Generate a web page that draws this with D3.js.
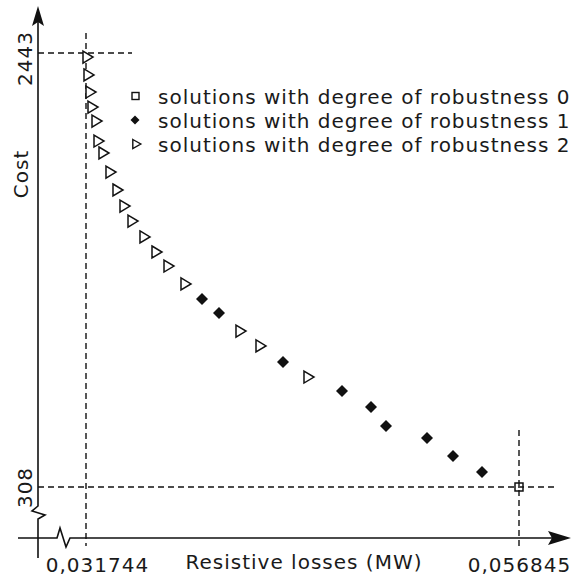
<!DOCTYPE html>
<html>
<head>
<meta charset="utf-8">
<script src="https://cdn.jsdelivr.net/npm/d3@7"></script>
<style>
  body { margin: 0; background: #fff; }
  text { font-family: "DejaVu Sans", sans-serif; font-size: 20px; letter-spacing: 1px; fill: #1a1a1a; }
</style>
</head>
<body>
<div id="chart"></div>
<script>
var svgWidth = 586;
var svgHeight = 583;

// robustness 0
var rob0X = [0.056845];
var rob0Y = [308];
// robustness 1
var rob1X = [0.038469, 0.039454, 0.043164, 0.046584, 0.048265, 0.049135, 0.051512, 0.053019, 0.054700];
var rob1Y = [1233, 1164, 923, 780, 702, 608, 549, 460, 382];
// robustness 2
var rob2X = [0.031802, 0.031860, 0.031976, 0.032092, 0.032324, 0.032440, 0.032729, 0.033135, 0.033541,
             0.033947, 0.034411, 0.035106, 0.035802, 0.036498, 0.037483, 0.040671, 0.041831, 0.044613];
var rob2Y = [2423, 2335, 2251, 2177, 2108, 2010, 1951, 1857, 1769,
             1690, 1616, 1538, 1464, 1395, 1307, 1075, 1002, 849];

var xTicks = [0.031744, 0.056845];
var yTicks = [308, 2443];
var legendLabels = ["solutions with degree of robustness 0",
                    "solutions with degree of robustness 1",
                    "solutions with degree of robustness 2"];

var axisX0 = 38;   // y axis line position
var axisY0 = 538;  // x axis line position

var svg = d3.select("#chart")
    .append("svg")
    .attr("width", svgWidth)
    .attr("height", svgHeight);

var xScale = d3.scaleLinear().domain([0.031744, 0.056845]).range([86, 519]);
var yScale = d3.scaleLinear().domain([308, 2443]).range([487, 53]);

// marker shapes
function triPath(w, h) {
    return `M${-w * 0.4},${-h / 2} L${w * 0.6},0 L${-w * 0.4},${h / 2} Z`;
}
function diaPath(r) {
    return `M0,${-r} L${r},0 L0,${r} L${-r},0 Z`;
}

// axes lines (with breaks)
svg.append("path")
    .attr("d", `M${axisX0},22 L${axisX0},506 L32,511 L45,515 L${axisX0},519 L${axisX0},558`)
    .attr("fill", "none")
    .attr("stroke", "#111")
    .attr("stroke-width", 1.6);
svg.append("path")
    .attr("d", `M18,${axisY0} L57,${axisY0} L60,528 L66,547 L70,${axisY0} L552,${axisY0}`)
    .attr("fill", "none")
    .attr("stroke", "#111")
    .attr("stroke-width", 1.6);

// arrow heads
svg.append("path")
    .attr("d", `M${axisX0},6 L${axisX0 + 6},26 L${axisX0},22 L${axisX0 - 6},26 Z`)
    .attr("fill", "#111");
svg.append("path")
    .attr("d", `M571,${axisY0} L548,${axisY0 - 7} L552,${axisY0} L548,${axisY0 + 7} Z`)
    .attr("fill", "#111");

// dashed guide lines
var dash = "6,4";
svg.append("line")
    .attr("x1", xScale(xTicks[0])).attr("x2", xScale(xTicks[0]))
    .attr("y1", 33).attr("y2", 546);
svg.append("line")
    .attr("x1", xScale(xTicks[1])).attr("x2", xScale(xTicks[1]))
    .attr("y1", 430).attr("y2", 548);
svg.append("line")
    .attr("x1", axisX0).attr("x2", 132)
    .attr("y1", yScale(yTicks[1])).attr("y2", yScale(yTicks[1]));
svg.append("line")
    .attr("x1", axisX0).attr("x2", 558)
    .attr("y1", yScale(yTicks[0])).attr("y2", yScale(yTicks[0]));
svg.selectAll("line")
    .attr("stroke", "#111")
    .attr("stroke-width", 1.4)
    .attr("stroke-dasharray", dash);

// tick labels through d3 axes
var bottomAxis = d3.axisBottom(xScale)
    .tickValues(xTicks)
    .tickSize(0)
    .tickFormat(d => String(d).replace(".", ","));
var xAxis = svg.append("g")
    .attr("transform", `translate(0, ${axisY0})`)
    .call(bottomAxis);
xAxis.select(".domain").remove();
xAxis.selectAll("text")
    .attr("dy", null)
    .attr("y", 34)
    .attr("dx", (d, i) => i == 0 ? 11 : 0)
    .attr("fill", "#1a1a1a")
    .style("font-size", "20px")
    .style("font-family", "DejaVu Sans");

var leftAxis = d3.axisLeft(yScale)
    .tickValues(yTicks)
    .tickSize(0)
    .tickFormat(d => String(d));
var yAxis = svg.append("g")
    .attr("transform", `translate(${axisX0}, 0)`)
    .call(leftAxis);
yAxis.select(".domain").remove();
yAxis.selectAll("text")
    .attr("transform", "rotate(-90)")
    .attr("dy", null)
    .attr("x", d => d == 2443 ? -5 : 0)
    .attr("y", -6)
    .attr("text-anchor", "middle")
    .attr("fill", "#1a1a1a")
    .style("font-size", "20px")
    .style("font-family", "DejaVu Sans");

// axis titles
svg.append("text")
    .attr("x", 304)
    .attr("y", 569)
    .attr("text-anchor", "middle")
    .text("Resistive losses (MW)");
svg.append("text")
    .attr("transform", "translate(28, 174) rotate(-90)")
    .attr("text-anchor", "middle")
    .text("Cost");

// points
svg.selectAll(".rob2")
    .data(rob2X)
    .enter()
    .append("path")
    .attr("class", "rob2")
    .attr("transform", (d, i) => `translate(${xScale(d)}, ${yScale(rob2Y[i])})`)
    .attr("d", triPath(10, 12))
    .attr("fill", "#fff")
    .attr("stroke", "#111")
    .attr("stroke-width", 1.5);

svg.selectAll(".rob1")
    .data(rob1X)
    .enter()
    .append("path")
    .attr("class", "rob1")
    .attr("transform", (d, i) => `translate(${xScale(d)}, ${yScale(rob1Y[i])})`)
    .attr("d", diaPath(6))
    .attr("fill", "#111");

svg.selectAll(".rob0")
    .data(rob0X)
    .enter()
    .append("rect")
    .attr("class", "rob0")
    .attr("x", d => xScale(d) - 4)
    .attr("y", (d, i) => yScale(rob0Y[i]) - 4)
    .attr("width", 8)
    .attr("height", 8)
    .attr("fill", "none")
    .attr("stroke", "#111")
    .attr("stroke-width", 1.5);

// legend
var legendRows = [96, 120, 144];
var legend = svg.append("g");
legend.append("rect")
    .attr("x", 132).attr("y", legendRows[0] - 3.5)
    .attr("width", 7).attr("height", 7)
    .attr("fill", "none").attr("stroke", "#111").attr("stroke-width", 1.4);
legend.append("path")
    .attr("transform", `translate(135, ${legendRows[1]})`)
    .attr("d", diaPath(4.5))
    .attr("fill", "#111");
legend.append("path")
    .attr("transform", `translate(136, ${legendRows[2]})`)
    .attr("d", triPath(8, 9))
    .attr("fill", "#fff").attr("stroke", "#111").attr("stroke-width", 1.4);
legend.selectAll("text")
    .data(legendLabels)
    .enter()
    .append("text")
    .attr("x", 158)
    .attr("y", (d, i) => legendRows[i] + 8)
    .text(d => d);
</script>
</body>
</html>
